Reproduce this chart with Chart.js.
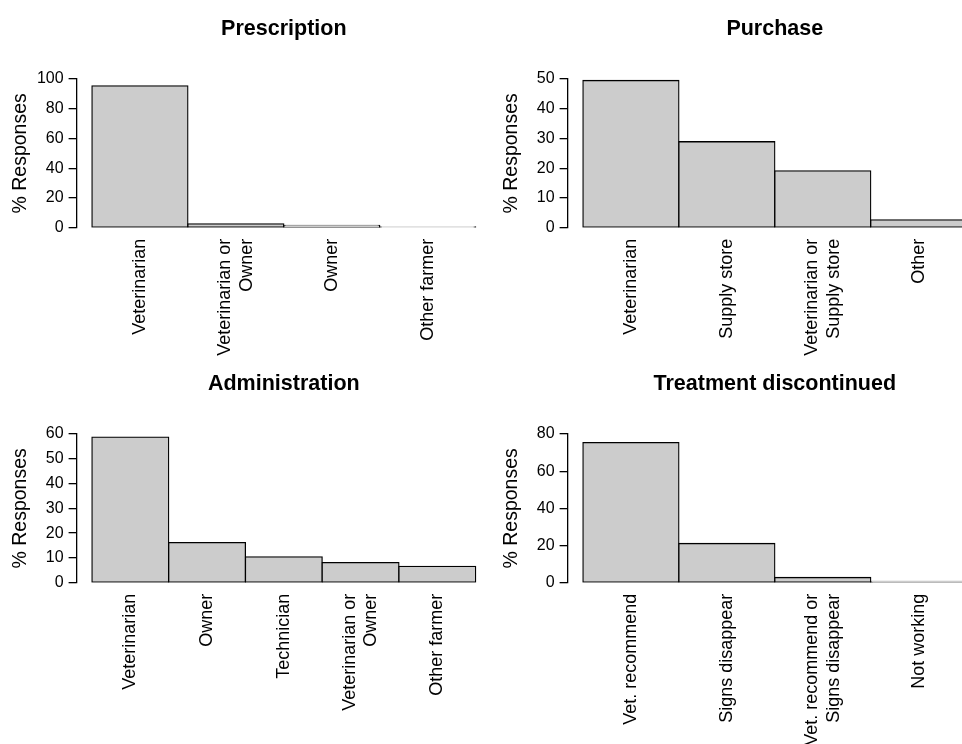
<!DOCTYPE html>
<html><head><meta charset="utf-8">
<script src="https://cdn.jsdelivr.net/npm/chart.js@4.4.1/dist/chart.umd.min.js"></script>
<style>
html,body{margin:0;padding:0;background:#fff;overflow:hidden;width:962px;height:744px;position:relative}
canvas{position:absolute}
</style></head><body>
<canvas id="c1" width="491" height="390" style="left:0px;top:0px"></canvas>
<canvas id="c2" width="491" height="390" style="left:491px;top:0px"></canvas>
<canvas id="c3" width="491" height="390" style="left:0px;top:355px"></canvas>
<canvas id="c4" width="491" height="390" style="left:491px;top:355px"></canvas>
<script>
// ---- data ----
const panelTitles = ["Prescription", "Purchase", "Administration", "Treatment discontinued"];
const yAxisTitle = "% Responses";

const prescriptionLabels = ["Veterinarian", ["Veterinarian or", "Owner"], "Owner", "Other farmer"];
const prescriptionValues = [95.4, 2.6, 1.5, 0.5];

const purchaseLabels = ["Veterinarian", "Supply store", ["Veterinarian or", "Supply store"], "Other"];
const purchaseValues = [49.5, 28.9, 19.1, 2.6];

const administrationLabels = ["Veterinarian", "Owner", "Technician", ["Veterinarian or", "Owner"], "Other farmer"];
const administrationValues = [58.7, 16.2, 10.4, 8.1, 6.6];

const discontinuedLabels = ["Vet. recommend", "Signs disappear", ["Vet. recommend or", "Signs disappear"], "Not working"];
const discontinuedValues = [75.4, 21.1, 2.8, 0.7];

const yMaxes = [100, 50, 60, 80];
const ySteps = [20, 10, 10, 20];

// ---- drawing ----
const FONT = "'Liberation Sans', Arial, Helvetica, sans-serif";
const CANVAS_W = 491;
const CANVAS_H = 390;
const AREA_BOTTOM = 227.7;
const Y_AXIS_W = 76.6;
const NAME_SIZE = 18;
const NAME_LINE_H = NAME_SIZE * 1.2;
const LW = 1.3;

function makeChart(id, title, labels, values, yMax, yStep) {
  const n = labels.length;
  const pad = 0.04 * n;
  const unitPx = (CANVAS_W - Y_AXIS_W) / (n + 2 * pad);
  return new Chart(document.getElementById(id), {
    type: 'bar',
    data: {
      datasets: [{
        data: values.map((v, i) => ({ x: i + 0.5, y: v })),
        backgroundColor: '#cccccc',
        borderColor: '#000000',
        borderWidth: LW,
        inflateAmount: LW / 2,
        borderSkipped: false,
        barThickness: unitPx   // bars touch: one category unit wide
      }]
    },
    options: {
      responsive: false,
      animation: false,
      devicePixelRatio: 1,
      layout: { padding: { left: 0, right: 0, top: 0, bottom: 0 } },
      plugins: {
        legend: { display: false },
        tooltip: { enabled: false },
        title: {
          display: true, text: title, fullSize: false, color: '#000',
          font: { family: FONT, size: 21.5, weight: 'bold', lineHeight: 1.2 },
          padding: { top: 16.2, bottom: 37.0 }
        }
      },
      scales: {
        x: {
          type: 'linear', offset: false, min: -pad, max: n + pad,
          grid: { display: false, drawTicks: false },
          border: { display: false },
          afterBuildTicks: s => {
            // multi-line names are centred on the bar (Chart.js starts them at the tick)
            s.ticks = labels.map((l, i) => {
              const lines = Array.isArray(l) ? l.length : 1;
              return { value: i + 0.5 - ((lines - 1) * NAME_LINE_H / 2) / unitPx };
            });
          },
          afterFit: s => { s.height = CANVAS_H - AREA_BOTTOM; },
          ticks: {
            autoSkip: false, maxRotation: 90, minRotation: 90, padding: 11, color: '#000',
            font: { family: FONT, size: NAME_SIZE, lineHeight: 1.2 },
            callback: (v, i) => labels[i]
          }
        },
        y: {
          min: 0, max: yMax,
          afterFit: s => { s.width = Y_AXIS_W; },
          ticks: { stepSize: yStep, color: '#000', padding: 5, font: { family: FONT, size: 16 } },
          grid: { drawOnChartArea: false, drawTicks: true, tickLength: 8, color: '#000', tickColor: '#000', lineWidth: LW },
          border: { display: true, color: '#000', width: LW },
          title: {
            display: true, text: yAxisTitle, color: '#000',
            font: { family: FONT, size: 19.5, lineHeight: 1.2 },
            padding: { top: 8.5, bottom: 0 }
          }
        }
      }
    }
  });
}

makeChart('c1', panelTitles[0], prescriptionLabels, prescriptionValues, yMaxes[0], ySteps[0]);
makeChart('c2', panelTitles[1], purchaseLabels, purchaseValues, yMaxes[1], ySteps[1]);
makeChart('c3', panelTitles[2], administrationLabels, administrationValues, yMaxes[2], ySteps[2]);
makeChart('c4', panelTitles[3], discontinuedLabels, discontinuedValues, yMaxes[3], ySteps[3]);
</script>
</body></html>
